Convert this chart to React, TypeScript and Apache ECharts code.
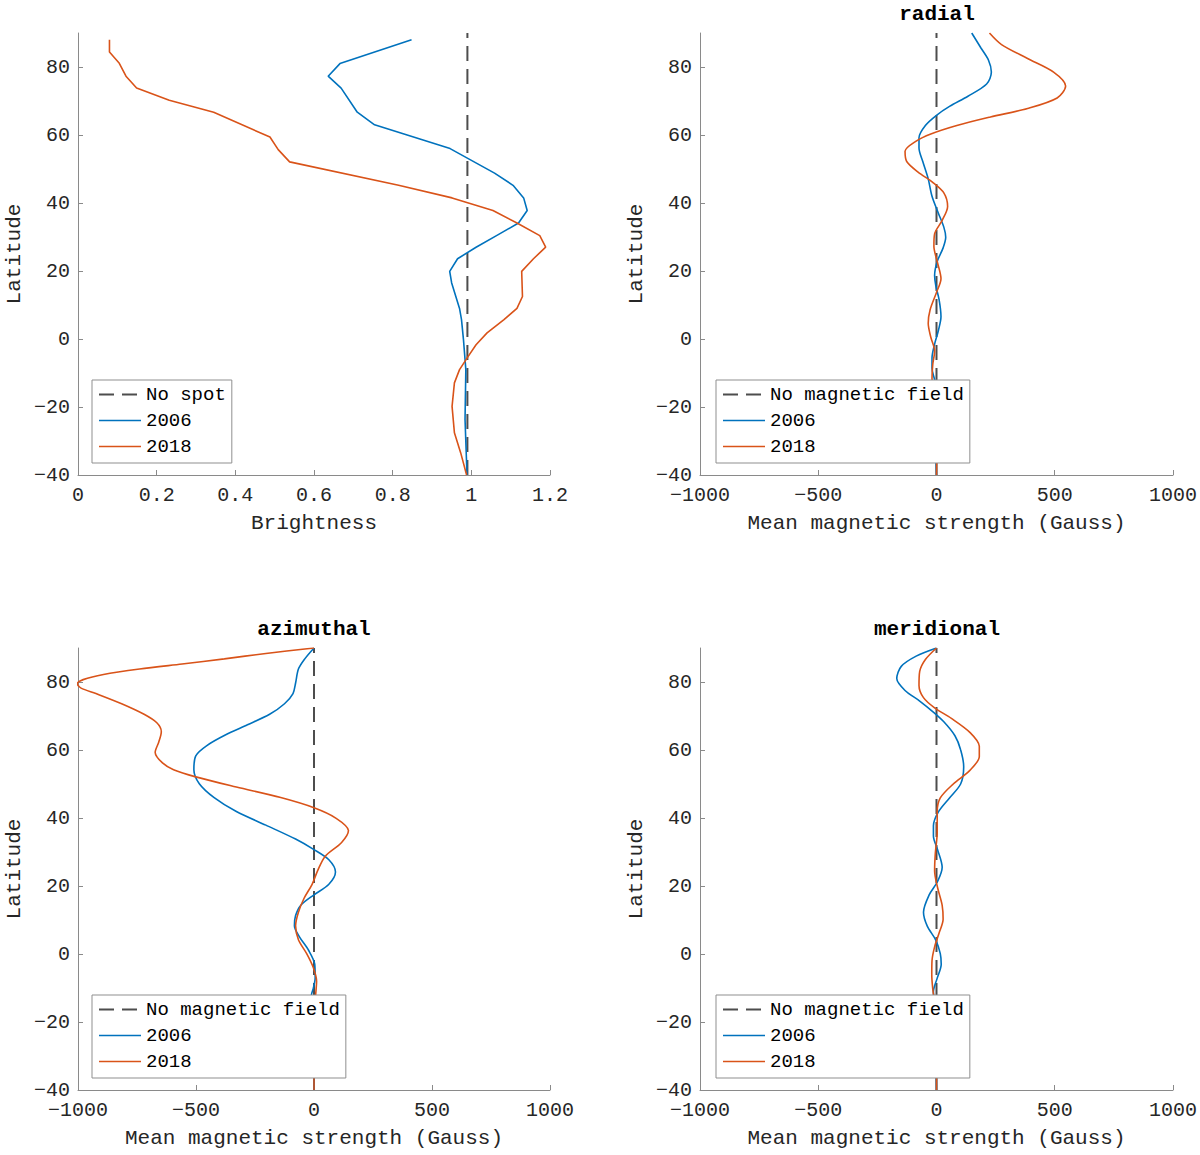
import React, { useEffect, useRef } from 'react';
import * as echarts from 'echarts';

// ---- data (x value, latitude in degrees) ----
const dashLat = [-40, 90];
const noSpot = 0.99;
const noField = 0;

const brightLat2006 = [88, 81, 77.3, 73.8, 66.7, 63, 56, 48.8, 45.2, 41.5, 37.8, 34.1, 30.4, 27, 23.6, 19.9, 16.5, 9, 5.7, -0.2, -9, -23.7, -40];
const bright2006 = [0.848, 0.666, 0.636, 0.669, 0.71, 0.754, 0.946, 1.059, 1.106, 1.133, 1.142, 1.12, 1.064, 1.012, 0.965, 0.945, 0.95, 0.97, 0.975, 0.98, 0.986, 0.984, 0.989];

const brightLat2018 = [88, 84.4, 81.1, 77.3, 73.8, 70.2, 66.7, 59.4, 55.7, 52.1, 45.2, 41.5, 37.8, 34.1, 30.4, 27, 23.6, 19.9, 12.5, 9, 5.7, 1.8, -1.7, -5.1, -9, -12.9, -19.8, -27.6, -33.5, -40];
const bright2018 = [0.08, 0.08, 0.105, 0.122, 0.149, 0.232, 0.345, 0.488, 0.509, 0.538, 0.815, 0.951, 1.055, 1.116, 1.174, 1.189, 1.158, 1.128, 1.13, 1.116, 1.083, 1.04, 1.012, 0.992, 0.97, 0.957, 0.951, 0.957, 0.973, 0.988];

const radLat2006 = [90, 85.6, 82, 78.5, 75, 71.4, 68.4, 65.8, 62.8, 59.2, 56.2, 52.2, 47.1, 42, 37, 32.9, 29.9, 26.8, 22.8, 18.7, 15.7, 11.6, 6.6, 2.5, -1.5, -5.6, -8.6, -12, -16, -22, -28, -34, -40];
const rad2006 = [149, 188, 220, 232, 212, 133, 55, 0, -47, -74, -74, -58, -35, -19, 8, 31, 39, 28, 3, -8, -3, 11, 19, 8, -8, -19, -19, -8, 0, 3, 0, -2, 0];

const radLat2018 = [90, 86.6, 82.5, 78.5, 74.4, 70.9, 67.8, 65.3, 62.8, 60.3, 58.2, 55.2, 52.2, 49.1, 46.1, 43, 39, 34.9, 30.9, 27.3, 22.8, 17.7, 13.7, 8.6, 4.6, 0.5, -3.5, -7.6, -11.6, -16, -22, -28, -34, -40];
const rad2018 = [224, 275, 385, 495, 546, 510, 385, 228, 86, -24, -86, -133, -126, -78, -16, 31, 47, 24, -8, -11, 3, 19, 0, -27, -35, -24, -8, -16, -19, -8, 2, 0, 1, 0];

const aziLat2006 = [90, 86.8, 83.8, 79.7, 76.6, 73.6, 70.5, 67.4, 64.4, 61.3, 58.3, 54.2, 50.1, 46, 41.9, 37.9, 33.8, 30.7, 27.7, 24.1, 20.5, 17.4, 14.4, 11.3, 8.3, 5.2, 1.1, -3, -7, -10.1, -12.1, -16, -22, -28, -34, -40];
const azi2006 = [0, -39, -66, -78, -89, -125, -188, -282, -376, -454, -501, -509, -486, -423, -329, -204, -78, 0, 63, 91, 63, 0, -55, -78, -83, -63, -23, 3, 5, -3, -11, -6, 2, 0, -1, 0];

const aziLat2018 = [90, 88.4, 86.8, 85.3, 83.8, 82.2, 80.7, 79.5, 78.2, 76.6, 73.6, 70.5, 68, 65.4, 62.3, 59.3, 56.2, 54.2, 52.1, 49.1, 46, 43, 39.9, 36.3, 32.8, 28.7, 24.6, 20.5, 16.4, 12.3, 8.3, 4.2, 0.1, -4, -8.1, -11.1, -16, -22, -28, -34, -40];
const azi2018 = [0, -204, -380, -559, -739, -892, -978, -1003, -987, -924, -815, -720, -666, -647, -658, -673, -642, -595, -501, -329, -141, 0, 94, 146, 117, 47, 16, -8, -42, -66, -78, -66, -31, -3, 11, 8, 3, 0, 1, 0, 0];

const merLat2006 = [90, 87.6, 84.6, 81, 77.5, 74.4, 71.3, 68.3, 64.2, 60.1, 55.1, 50, 45.9, 41.8, 37.7, 34.7, 30.6, 25.5, 21.4, 17.4, 12.3, 8.2, 4.1, 0.1, -3, -7.1, -11.1, -16, -22, -28, -34, -40];
const mer2006 = [0, -86, -149, -168, -133, -71, -16, 31, 78, 102, 115, 102, 55, 8, -13, -13, 5, 24, 5, -31, -55, -39, -3, 16, 20, 3, -13, -5, 2, 0, -1, 0];

const merLat2018 = [90, 86.6, 83.1, 79, 75.4, 72.4, 69.3, 65.2, 61.1, 58.1, 54, 50, 45.9, 41.8, 35.7, 29.6, 24.5, 19.4, 14.3, 10.2, 6.2, 2.1, -2, -6, -10.1, -16, -22, -28, -34, -40];
const mer2018 = [0, -47, -71, -74, -55, -8, 63, 141, 181, 181, 141, 71, 16, 3, 3, -5, -8, 5, 24, 28, 11, -8, -19, -20, -16, -5, 1, 0, 0, 0];

const latTicks = [-40, -20, 0, 20, 40, 60, 80];

const FONT = '"Liberation Mono", "DejaVu Sans Mono", monospace';
const BLUE = '#0072BD';
const ORANGE = '#D95319';
const DASH = '#4d4d4d';
const AXIS = '#8a8a8a';
const LABEL = '#262626';
const DASH_TYPE = [15, 8];

const fmt = (v: number) => (v < 0 ? '\u2212' + Math.abs(v) : String(v));

const grids = [
    { left: 78, top: 33, width: 472, height: 442 },
    { left: 700, top: 33, width: 473, height: 442 },
    { left: 78, top: 648, width: 472, height: 442 },
    { left: 700, top: 648, width: 473, height: 442 },
];

const xAxisOf = (g: number, min: number, max: number, interval: number, name: string) => ({
    gridIndex: g,
    type: 'value',
    min,
    max,
    interval,
    name,
    nameLocation: 'middle',
    nameGap: 38,
    nameTextStyle: { fontFamily: FONT, fontSize: 21, color: LABEL },
    axisLine: { show: true, onZero: false, lineStyle: { color: AXIS, width: 1 } },
    axisTick: { show: true, inside: true, length: 5, lineStyle: { color: AXIS } },
    axisLabel: { fontFamily: FONT, fontSize: 20, lineHeight: 18, color: LABEL, margin: 11, formatter: fmt },
    splitLine: { show: false },
});

const yAxisOf = (g: number) => ({
    gridIndex: g,
    type: 'value',
    min: -40,
    max: 90,
    interval: 20,
    name: 'Latitude',
    nameLocation: 'middle',
    nameGap: 53,
    nameTextStyle: { fontFamily: FONT, fontSize: 21, color: LABEL },
    axisLine: { show: true, onZero: false, lineStyle: { color: AXIS, width: 1 } },
    axisTick: { show: true, inside: true, length: 5, customValues: latTicks, lineStyle: { color: AXIS } },
    axisLabel: { fontFamily: FONT, fontSize: 20, lineHeight: 16, color: LABEL, margin: 8, customValues: latTicks, formatter: fmt },
    splitLine: { show: false },
});

const pairs = (vals: number[], lats: number[]) => vals.map((v, i) => [v, lats[i]]);

const lineOf = (name: string, color: string, vals: number[], lats: number[], g: number, smooth: number | boolean) => ({
    type: 'line',
    name,
    xAxisIndex: g,
    yAxisIndex: g,
    data: pairs(vals, lats),
    symbol: 'none',
    smooth,
    silent: true,
    lineStyle: { color, width: 1.6 },
    itemStyle: { color },
});

const dashOf = (name: string, x: number, g: number) => ({
    type: 'line',
    name,
    xAxisIndex: g,
    yAxisIndex: g,
    data: pairs([x, x], dashLat),
    symbol: 'none',
    silent: true,
    lineStyle: { color: DASH, width: 2, type: DASH_TYPE },
    itemStyle: { color: DASH },
});

const legendOf = (left: number, top: number, first: string) => ({
    orient: 'vertical',
    left,
    top,
    data: [
        { name: first, lineStyle: { color: DASH, width: 2, type: DASH_TYPE } },
        { name: '2006', lineStyle: { color: BLUE, width: 1.6, type: 'solid' } },
        { name: '2018', lineStyle: { color: ORANGE, width: 1.6, type: 'solid' } },
    ],
    itemWidth: 42,
    itemHeight: 18,
    itemGap: 7,
    padding: [5, 6, 7, 6],
    itemStyle: { opacity: 0 },
    backgroundColor: '#fff',
    borderColor: '#8f8f8f',
    borderWidth: 1,
    borderRadius: 0,
    selectedMode: false,
    textStyle: { fontFamily: FONT, fontSize: 19, color: '#000', lineHeight: 18 },
});

const titleOf = (text: string, x: number, y: number) => ({
    type: 'text',
    x,
    y,
    style: {
        text,
        fontFamily: FONT,
        fontSize: 21,
        fontWeight: 'bold',
        fill: '#000',
        align: 'center',
        verticalAlign: 'middle',
    },
});

const App: React.FC = () => {
    const chartRef = useRef<HTMLDivElement>(null);

    useEffect(() => {
        document.body.style.margin = '0';
        if (!chartRef.current) return;
        const chart = echarts.init(chartRef.current, null, { renderer: 'svg' });

        const option = {
            animation: false,
            backgroundColor: '#fff',
            grid: grids,
            xAxis: [
                xAxisOf(0, 0, 1.2, 0.2, 'Brightness'),
                xAxisOf(1, -1000, 1000, 500, 'Mean magnetic strength (Gauss)'),
                xAxisOf(2, -1000, 1000, 500, 'Mean magnetic strength (Gauss)'),
                xAxisOf(3, -1000, 1000, 500, 'Mean magnetic strength (Gauss)'),
            ],
            yAxis: [yAxisOf(0), yAxisOf(1), yAxisOf(2), yAxisOf(3)],
            legend: [
                legendOf(92, 380, 'No spot'),
                legendOf(716, 380, 'No magnetic field'),
                legendOf(92, 995, 'No magnetic field'),
                legendOf(716, 995, 'No magnetic field'),
            ],
            graphic: [
                titleOf('radial', 937, 14),
                titleOf('azimuthal', 314, 629),
                titleOf('meridional', 937, 629),
            ],
            series: [
                dashOf('No spot', noSpot, 0),
                lineOf('2006', BLUE, bright2006, brightLat2006, 0, false),
                lineOf('2018', ORANGE, bright2018, brightLat2018, 0, false),

                dashOf('No magnetic field', noField, 1),
                lineOf('2006', BLUE, rad2006, radLat2006, 1, 0.3),
                lineOf('2018', ORANGE, rad2018, radLat2018, 1, 0.3),

                dashOf('No magnetic field', noField, 2),
                lineOf('2006', BLUE, azi2006, aziLat2006, 2, 0.3),
                lineOf('2018', ORANGE, azi2018, aziLat2018, 2, 0.3),

                dashOf('No magnetic field', noField, 3),
                lineOf('2006', BLUE, mer2006, merLat2006, 3, 0.3),
                lineOf('2018', ORANGE, mer2018, merLat2018, 3, 0.3),
            ],
        };

        chart.setOption(option);

        const handleResize = () => chart.resize();
        window.addEventListener('resize', handleResize);

        return () => {
            window.removeEventListener('resize', handleResize);
            chart.dispose();
        };
    }, []);

    return <div ref={chartRef} style={{ width: 1200, height: 1155 }} />;
};

export default App;
